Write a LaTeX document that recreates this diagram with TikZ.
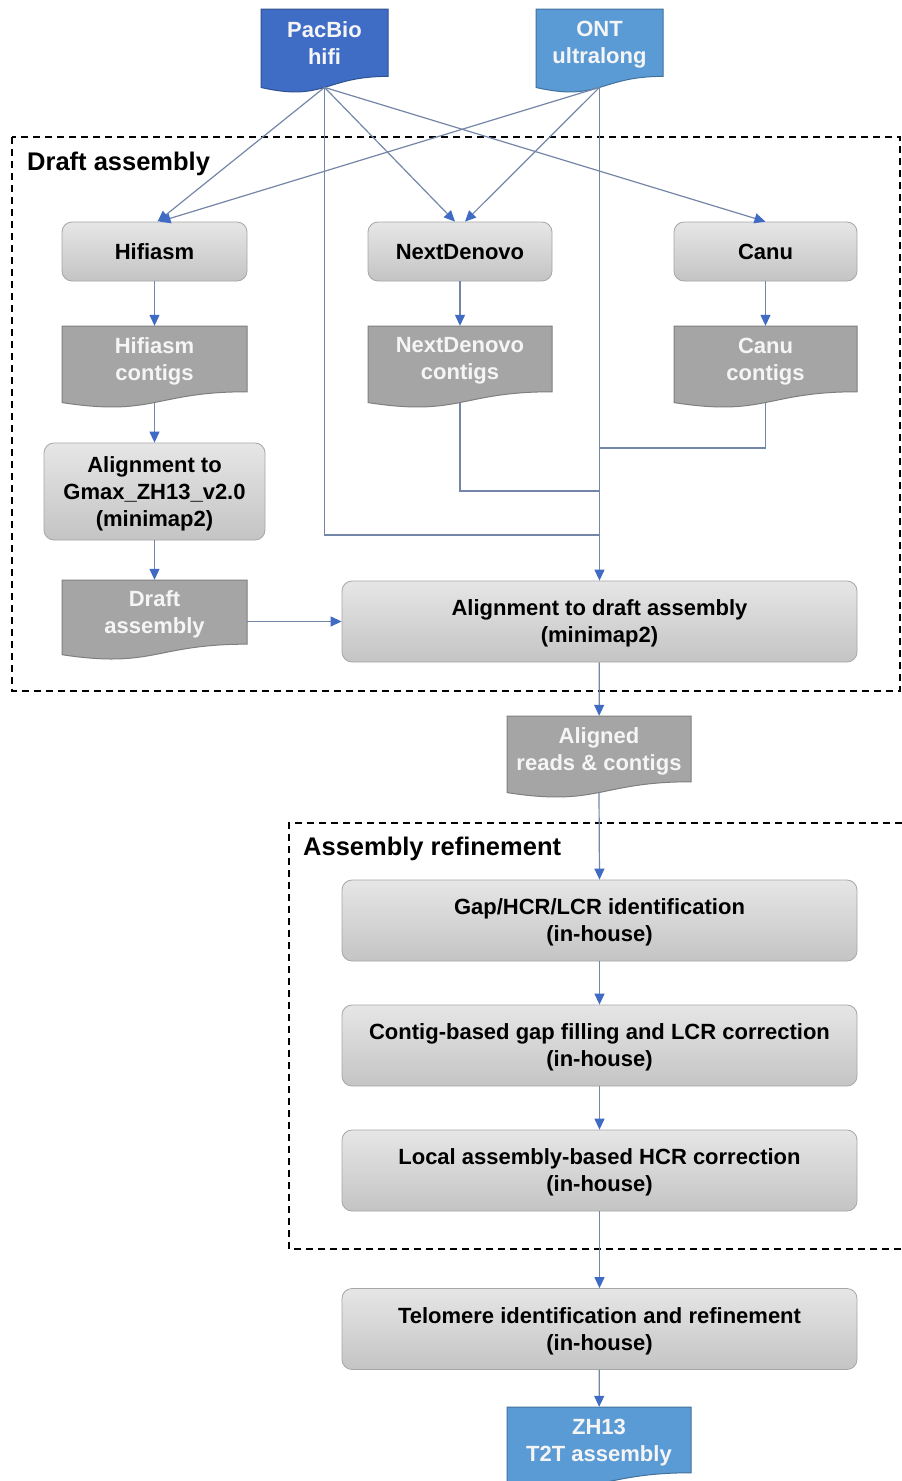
\documentclass[tikz,border=0pt]{standalone}
\usepackage{fontspec}
\setmainfont{Liberation Sans}
\usetikzlibrary{arrows.meta,calc}
\definecolor{lineC}{HTML}{7486A8}
\definecolor{arrC}{HTML}{3F6BC4}
\definecolor{docgray}{HTML}{A5A5A5}
\definecolor{docgrayB}{HTML}{7F7F7F}
\definecolor{pacblue}{HTML}{3F6DC6}
\definecolor{pacblueB}{HTML}{2F528F}
\definecolor{ontblue}{HTML}{5B9BD5}
\definecolor{ontblueB}{HTML}{41719C}
\definecolor{boxtop}{HTML}{E6E6E6}
\definecolor{boxbot}{HTML}{C4C4C4}
\definecolor{boxB}{HTML}{A6A6A6}
\definecolor{doctxt}{HTML}{F5F5F5}
\tikzset{
  procbox/.style={rounded corners=10pt, draw=boxB, line width=0.8pt, top color=boxtop, bottom color=boxbot, align=center, font=\fontsize{22}{27}\selectfont\bfseries, text=black, inner sep=0pt, text depth=0pt},
  doctext/.style={align=center, font=\fontsize{22}{27}\selectfont\bfseries, text=doctxt, inner sep=0pt, text depth=0pt},
  graydoc/.style={fill=docgray, draw=docgrayB, line width=1pt},
  pacdoc/.style={fill=pacblue, draw=pacblueB, line width=1pt},
  ontdoc/.style={fill=ontblue, draw=ontblueB, line width=1pt},
  conn/.style={draw=lineC, line width=1.2pt},
  arr/.style={conn, -{Triangle[length=11pt,width=10pt,color=arrC]}},
  dashbox/.style={draw=black, line width=1.6pt, dash pattern=on 7pt off 5pt},
  grouplabel/.style={font=\fontsize{25.5}{30}\selectfont\bfseries, anchor=base west, inner sep=0pt, text=black},
}
\newcommand\docnode[7]{%
  \pgfmathsetmacro\dxb{#2+#4}%
  \pgfmathsetmacro\dxm{#2+0.5*#4}%
  \pgfmathsetmacro\dyr{#3+0.802*#5}%
  \pgfmathsetmacro\dyc{#3+1.108*#5}%
  \pgfmathsetmacro\dyl{#3+0.934*#5}%
  \pgfmathsetmacro\dyt{#3+0.401*#5}%
  \pgfmathsetmacro\dyb{#3+0.933*#5}%
  \pgfmathsetmacro\dh{0.802*#5}%
  \path[#6] (#2,#3) -- (\dxb,#3) -- (\dxb,\dyr) .. controls (\dxm,\dyr) and (\dxm,\dyc) .. (#2,\dyl) -- cycle;
  \node[doctext, minimum width=#4pt, minimum height=\dh pt] (#1) at (\dxm,\dyt) {#7};
  \coordinate (#1-b) at (\dxm,\dyb);
}
\begin{document}
\begin{tikzpicture}[x=1pt,y=-1pt]
\useasboundingbox[fill=white] (0,0) rectangle (902,1481);

% group frames
\draw[dashbox] (12,137) rectangle (900,691);
\draw[dashbox] (902,823) -- (289,823) -- (289,1249) -- (902,1249);
\node[grouplabel] (lblDraft) at (27,170) {Draft assembly};
\node[grouplabel] (lblRef) at (303,855) {Assembly refinement};

% inputs
\docnode{pacbio}{261}{9}{127}{84}{pacdoc}{PacBio\\hifi}
\docnode{ont}{536}{9}{127}{84}{ontdoc}{ONT\\ultralong}

% assemblers
\node[procbox, minimum width=185pt, minimum height=59pt] (hifiasm) at (154.5,251.5) {Hifiasm};
\node[procbox, minimum width=184pt, minimum height=59pt] (nd) at (460,251.5) {NextDenovo};
\node[procbox, minimum width=183pt, minimum height=59pt] (canu) at (765.5,251.5) {Canu};

\docnode{hifc}{62}{326}{185}{82}{graydoc}{Hifiasm\\contigs}
\docnode{ndc}{368}{326}{184}{82}{graydoc}{NextDenovo\\contigs}
\docnode{canuc}{674}{326}{183}{82}{graydoc}{Canu\\contigs}

\node[procbox, minimum width=221pt, minimum height=97pt] (gmax) at (154.5,491.5) {Alignment to\\Gmax\_ZH13\_v2.0\\(minimap2)};
\docnode{draftdoc}{62}{580}{185}{80}{graydoc}{Draft\\assembly}
\node[procbox, minimum width=515pt, minimum height=81pt] (align) at (599.5,621.5) {Alignment to draft assembly\\(minimap2)};

\docnode{aligned}{507}{716}{184}{82}{graydoc}{Aligned\\reads \& contigs}

\node[procbox, minimum width=515pt, minimum height=81pt] (gap) at (599.5,920.5) {Gap/HCR/LCR identification\\(in-house)};
\node[procbox, minimum width=515pt, minimum height=81pt] (contig) at (599.5,1045.5) {Contig-based gap filling and LCR correction\\(in-house)};
\node[procbox, minimum width=515pt, minimum height=81pt] (local) at (599.5,1170.5) {Local assembly-based HCR correction\\(in-house)};
\node[procbox, minimum width=515pt, minimum height=81pt] (telo) at (599.5,1329) {Telomere identification and refinement\\(in-house)};

\docnode{zh}{507}{1407}{184}{82}{ontdoc}{ZH13\\T2T assembly}

% junctions on the trunk
\coordinate (jC) at (599.5,448);
\coordinate (jN) at (599.5,491);
\coordinate (jP) at (599.5,535);

% connectors
\draw[conn] (pacbio-b) -- (pacbio-b |- jP) -- (jP);
\draw[conn] (ndc-b) -- (ndc-b |- jN) -- (jN);
\draw[conn] (canuc-b) -- (canuc-b |- jC) -- (jC);
\draw[arr] (pacbio-b) -- ([xshift=3pt]hifiasm.north);
\draw[arr] (pacbio-b) -- ([xshift=-5pt]nd.north);
\draw[arr] (pacbio-b) -- (canu.north);
\draw[arr] (ont-b) -- ([xshift=5pt]hifiasm.north);
\draw[arr] (ont-b) -- ([xshift=5pt]nd.north);
\draw[arr] (ont-b) -- (align.north);

\draw[arr] (hifiasm) -- (hifc);
\draw[arr] (nd) -- (ndc);
\draw[arr] (canu) -- (canuc);
\draw[arr] (hifc-b) -- (gmax.north);
\draw[arr] (gmax) -- (draftdoc);
\draw[arr] (draftdoc.east |- align.west) -- (align.west);
\draw[arr] (align) -- (aligned);
\draw[arr] (aligned-b) -- (gap.north);
\draw[arr] (gap) -- (contig);
\draw[arr] (contig) -- (local);
\draw[arr] (local) -- (telo);
\draw[arr] (telo) -- (zh);
\end{tikzpicture}
\end{document}
